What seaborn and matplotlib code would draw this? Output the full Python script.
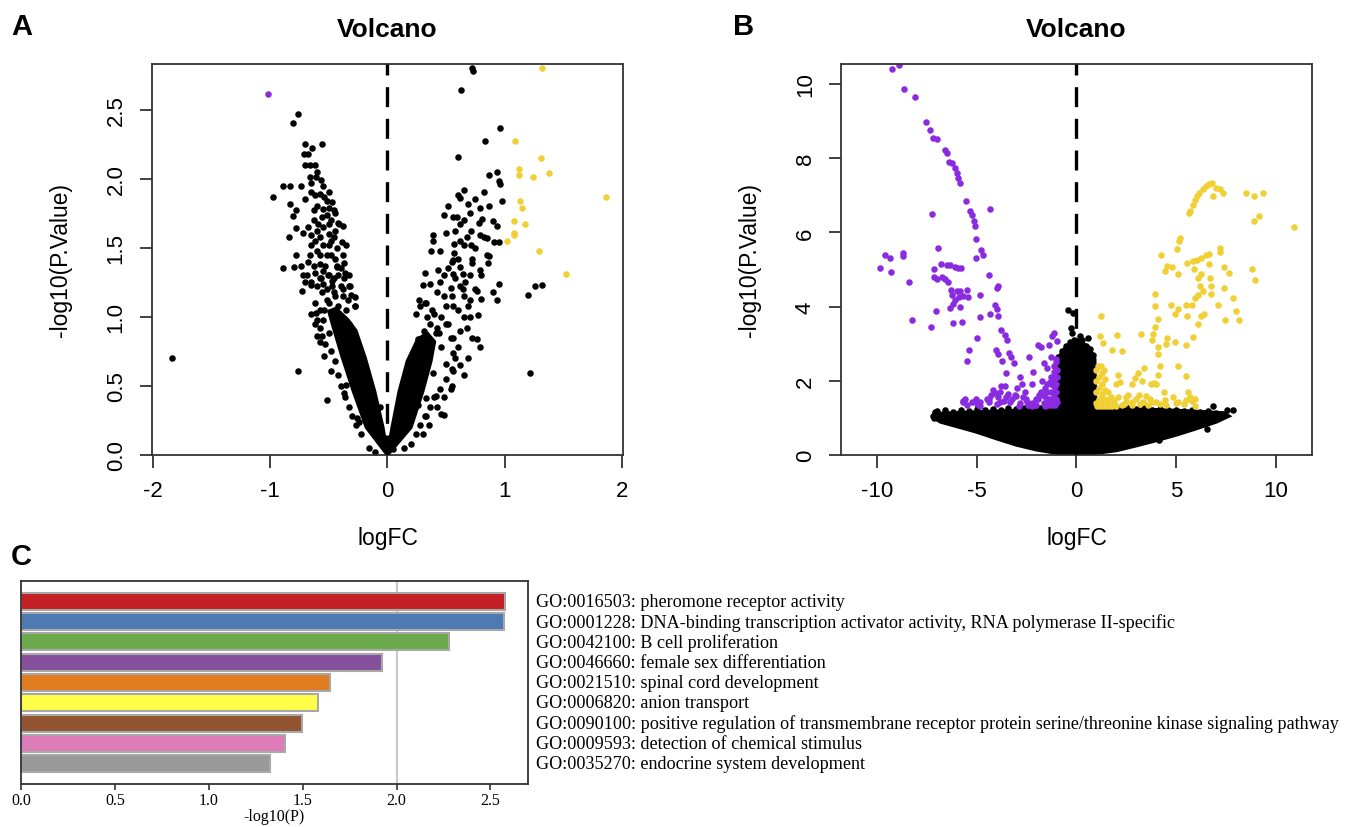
import matplotlib
matplotlib.use("Agg")
import matplotlib.pyplot as plt
import seaborn as sns
import pandas as pd

# ---------------- Panel A: volcano (small data set) ----------------
a_ns_x = [-1.84, -0.76, -0.81, -0.70, -0.56, -0.71, -0.68, -0.70, -0.66, -0.62, -0.66, -0.61, -0.57, -0.65,
          -0.98, -0.89, -0.83, -0.65, -0.58, -0.54, -0.52, -0.47, -0.83, -0.63, -0.78, -0.81, -0.50, -0.46,
          -0.56, -0.59, -0.50, -0.41, -0.38, -0.78, -0.72, -0.84, -0.65, -0.58, -0.46, -0.39, -0.65, -0.50,
          -0.35, -0.66, -0.78, -0.58, -0.48, -0.89, -0.80, -0.74, -0.63, -0.53, -0.43, -0.37, -0.69, -0.58,
          -0.46, -0.33, -0.73, -0.65, -0.56, -0.32, -0.61, -0.54, -0.28, -0.28, -0.58, -0.56, -0.60, -0.58,
          -0.54, -0.48, -0.76, -0.52, -0.37, -0.35, -0.26, -0.24, -0.11,
          0.72, 0.73, 0.63, 0.96, 0.83, 0.60, 0.93, 0.87, 0.95, 0.96, 0.65, 0.60, 0.62, 0.82, 0.98, 0.52,
          0.69, 0.87, 0.79, 0.48, 0.56, 0.59, 0.62, 0.81, 0.90, 0.93, 0.39, 0.50, 0.71, 0.79, 0.85, 0.91,
          0.95, 0.39, 0.57, 0.65, 0.71, 0.37, 0.45, 0.57, 0.87, 0.56, 0.72, 0.86, 0.32, 0.43, 0.56, 0.64,
          0.79, 0.30, 0.36, 0.95, 1.20, 1.26, 1.32, 0.54, 0.64, 0.76, 0.90, 0.65, 0.80, 0.93, 0.33, 0.48,
          0.56, 0.69, 0.60, 0.70, 0.77, 0.50, 0.62, 0.41, 0.54, 0.76, 0.79, 0.46, 0.56, 0.69, 1.22, 0.50,
          0.56, 0.39, 0.54, 0.41, 0.33, 0.46, 0.48, 0.33, 0.26]
a_ns_y = [0.70, 2.47, 2.40, 2.25, 2.25, 2.18, 2.18, 2.10, 2.10, 2.10, 2.01, 2.01, 1.99, 1.97,
          1.87, 1.95, 1.95, 1.90, 1.89, 1.87, 1.84, 1.83, 1.82, 1.77, 1.77, 1.73, 1.79, 1.77,
          1.72, 1.67, 1.67, 1.67, 1.66, 1.64, 1.61, 1.58, 1.59, 1.58, 1.58, 1.54, 1.52, 1.52,
          1.52, 1.45, 1.45, 1.45, 1.45, 1.35, 1.36, 1.37, 1.37, 1.37, 1.37, 1.39, 1.30, 1.28,
          1.28, 1.30, 1.19, 1.23, 1.18, 1.22, 1.03, 1.05, 1.14, 1.08, 0.92, 0.86, 0.86, 0.82,
          0.72, 0.61, 0.61, 0.40, 0.45, 0.51, 0.27, 0.24, 0.02,
          2.80, 2.78, 2.64, 2.37, 2.27, 2.16, 2.05, 2.03, 1.98, 1.96, 1.92, 1.88, 1.86, 1.90, 1.84, 1.80,
          1.82, 1.80, 1.79, 1.74, 1.72, 1.72, 1.67, 1.71, 1.69, 1.66, 1.59, 1.61, 1.62, 1.59, 1.57, 1.54,
          1.54, 1.55, 1.53, 1.52, 1.52, 1.48, 1.48, 1.46, 1.44, 1.41, 1.39, 1.39, 1.32, 1.34, 1.31, 1.31,
          1.34, 1.23, 1.24, 1.24, 1.16, 1.22, 1.23, 1.21, 1.20, 1.19, 1.18, 1.15, 1.13, 1.12, 1.10, 1.15,
          1.08, 1.08, 1.05, 1.00, 1.01, 0.95, 0.90, 0.88, 0.85, 0.84, 0.78, 0.78, 0.74, 0.70, 0.59, 0.66,
          0.61, 0.59, 0.48, 0.43, 0.41, 0.30, 0.29, 0.28, 0.36]
# genes crowding the two arms of the "V"
a_arm_x = [-0.62, -0.60, -0.55, -0.52, -0.48, -0.63, -0.60, -0.55, -0.50, -0.45, -0.62, -0.55, -0.48, -0.43,
           -0.60, -0.52, -0.45, -0.68, -0.62, -0.55, -0.50, -0.42, -0.65, -0.60, -0.52, -0.47, -0.40, -0.62,
           -0.58, -0.52, -0.45, -0.38, -0.35, -0.33, -0.30, -0.55, -0.50, -0.53, -0.48, -0.45, -0.42, -0.40,
           -0.36, -0.33, -0.30, -0.27, -0.23, -0.62, -0.65, -0.70, -0.72, -0.68, -0.70, -0.74, -0.60, -0.64,
           -0.55, -0.50, -0.45, -0.42, -0.38, -0.58, -0.60, -0.57, -0.40, -0.36, -0.33, -0.16, -0.10, -0.06,
           -0.50, -0.46, -0.42, -0.38, -0.34, -0.55, -0.51, -0.47, -0.43, -0.37, -0.31, -0.28,
           0.30, 0.34, 0.38, 0.42, 0.46, 0.50, 0.55, 0.52, 0.56, 0.60, 0.58, 0.55, 0.50, 0.45, 0.40, 0.36,
           0.32, 0.28, 0.24, 0.20, 0.38, 0.34, 0.32, 0.28, 0.42, 0.45, 0.48, 0.52, 0.55, 0.60, 0.62, 0.58,
           0.62, 0.66, 0.70, 0.72, 0.75, 0.68, 0.62, 0.58, 0.65, 0.70, 0.75, 0.78, 0.82, 0.85, 0.80, 0.75,
           0.70, 0.65, 0.68, 0.72, 0.62, 0.65, 0.55, 0.48, 0.42, 0.35, 0.30, 0.14, 0.09, 0.05, 0.27, 0.24,
           0.36, 0.40, 0.44, 0.31, 0.26]
a_arm_y = [1.88, 1.80, 1.78, 1.74, 1.70, 1.70, 1.62, 1.65, 1.60, 1.62, 1.55, 1.52, 1.55, 1.50,
           1.48, 1.45, 1.42, 1.40, 1.32, 1.33, 1.30, 1.30, 1.25, 1.22, 1.20, 1.22, 1.22, 1.10,
           1.05, 1.12, 1.15, 1.15, 1.05, 0.95, 0.90, 0.98, 0.88, 0.80, 0.75, 0.68, 0.58, 0.50,
           0.42, 0.35, 0.28, 0.22, 0.15, 0.95, 1.02, 1.25, 1.30, 1.65, 1.85, 1.95, 2.05, 2.22,
           1.95, 1.90, 1.75, 1.68, 1.45, 1.38, 0.98, 1.28, 1.35, 1.32, 1.22, 0.05, 0.18, 0.35,
           1.10, 1.18, 1.08, 1.20, 1.12, 1.24, 1.30, 1.26, 1.36, 1.28, 1.16, 1.08,
           0.60, 0.70, 0.82, 0.92, 1.00, 1.08, 1.15, 0.95, 0.85, 0.78, 0.70, 0.62, 0.55, 0.48, 0.42, 0.35,
           0.28, 0.22, 0.15, 0.08, 1.05, 1.00, 1.10, 1.08, 1.18, 1.25, 1.30, 1.35, 1.40, 1.42, 1.36, 1.28,
           1.22, 1.25, 1.30, 1.42, 1.50, 1.58, 1.55, 1.62, 1.70, 1.75, 1.85, 1.68, 1.58, 1.45, 1.30, 1.20,
           1.12, 1.00, 0.92, 0.85, 0.65, 0.58, 0.50, 0.42, 0.35, 0.22, 0.15, 0.05, 0.12, 0.04, 1.12, 1.02,
           0.95, 1.02, 0.88, 0.90, 0.84]
a_up_x = [1.32, 1.09, 1.31, 1.12, 1.12, 1.24, 1.38, 1.86, 1.13, 1.15, 1.08, 1.17, 1.08, 1.08, 1.02, 1.29, 1.52]
a_up_y = [2.80, 2.27, 2.15, 2.07, 2.03, 2.01, 2.04, 1.87, 1.84, 1.79, 1.69, 1.67, 1.61, 1.59, 1.55, 1.48, 1.31]
a_down_x = [-1.02]
a_down_y = [2.61]
# outline of the densely packed bottom of the "V"
a_core_left_x = [0.0, -0.18, -0.29, -0.39, -0.46, -0.50, -0.44, -0.34, -0.27, -0.19, -0.11, -0.04, 0.0]
a_core_left_y = [0.0, 0.20, 0.46, 0.72, 0.92, 1.04, 1.06, 0.98, 0.90, 0.70, 0.46, 0.20, 0.0]
a_core_right_x = [0.0, 0.20, 0.30, 0.37, 0.40, 0.34, 0.26, 0.17, 0.10, 0.04, 0.0]
a_core_right_y = [0.0, 0.20, 0.46, 0.68, 0.82, 0.88, 0.84, 0.68, 0.46, 0.20, 0.0]

# ---------------- Panel B: volcano (large data set) ----------------
b_down_x = [-9.22, -8.89, -8.64, -8.06, -7.54, -7.35, -7.18, -6.96, -6.60, -6.49, -6.38, -6.25, -6.10, -6.00,
            -5.93, -5.84, -5.52, -5.35, -5.24, -5.13, -5.07, -4.34, -7.24, -5.01, -4.77, -4.66, -5.03, -6.92,
            -9.56, -9.32, -8.68, -8.68, -9.82, -9.26, -8.38, -6.79, -6.49, -6.32, -6.10, -5.93, -5.78, -7.13,
            -7.13, -6.96, -6.75, -6.58, -6.42, -6.27, -6.21, -6.10, -6.00, -5.82, -5.89, -5.67, -5.50, -5.41,
            -4.38, -3.95, -4.00, -4.81, -6.19, -6.32, -5.82, -7.05, -8.25, -7.28, -6.19, -5.71, -4.81, -4.34,
            -4.10, -4.00, -3.91, -4.96, -3.78, -3.59, -3.48, -5.39, -5.46, -4.02, -3.91, -3.35, -3.27, -3.74,
            -3.14, -3.52, -2.38, -1.91, -1.76, -1.37, -1.20, -1.12, -0.99, -2.81, -2.19, -1.63, -1.48, -2.23,
            -1.70, -2.73, -2.99, -2.56, -2.66, -3.09, -2.45, -2.02, -1.85, -1.55, -1.33, -1.16, -1.10, -1.03,
            -1.27, -3.57, -3.85, -3.95, -3.52, -3.31, -3.85, -4.38, -4.81, -5.24, -5.67, -5.56, -5.03, -4.49,
            -4.06, -4.28, -4.81, -2.88, -2.23, -1.59, -1.37, -1.16, -1.05, -0.95, -0.95, -0.99]
b_down_y = [10.41, 10.52, 9.86, 9.65, 8.97, 8.75, 8.54, 8.51, 8.22, 8.15, 7.91, 7.88, 7.74, 7.59,
            7.48, 7.34, 6.85, 6.58, 6.46, 6.32, 6.17, 6.62, 6.49, 5.81, 5.52, 5.38, 5.30, 5.58,
            5.38, 5.31, 5.44, 5.36, 5.04, 4.93, 4.67, 5.14, 5.11, 5.11, 5.07, 5.04, 5.04, 5.01,
            4.80, 4.75, 4.80, 4.75, 4.65, 4.46, 4.32, 4.19, 4.41, 4.41, 4.26, 4.29, 4.46, 4.26,
            4.85, 4.56, 4.49, 4.32, 4.08, 3.95, 3.98, 3.87, 3.65, 3.44, 3.55, 3.59, 3.71, 3.80,
            4.03, 3.93, 3.76, 3.16, 3.37, 3.23, 3.11, 2.82, 2.53, 2.82, 2.73, 2.75, 2.65, 2.53,
            2.47, 2.22, 2.65, 2.97, 2.92, 2.97, 3.21, 3.30, 3.06, 2.10, 2.24, 2.49, 2.34, 1.91,
            2.00, 1.91, 1.81, 1.71, 1.57, 1.62, 1.43, 1.52, 1.62, 1.81, 1.96, 2.10, 2.39, 2.58,
            2.63, 1.86, 1.71, 1.57, 1.57, 1.43, 1.43, 1.43, 1.43, 1.43, 1.43, 1.52, 1.50, 1.52,
            1.67, 1.62, 1.33, 1.33, 1.33, 1.33, 1.52, 1.71, 1.86, 1.43, 2.10, 2.29]
# down-regulated genes packed just above the threshold
b_down2_x = [-1.00, -1.00, -1.00, -1.00, -1.00, -1.00, -1.12, -1.12, -1.12, -1.12, -1.12, -1.28, -1.28, -1.28,
             -1.28, -1.45, -1.45, -1.45, -1.60, -1.60, -1.75, -1.90, -2.20, -2.50, -2.80, -3.20, -3.60, -4.00,
             -4.40, -5.00, -5.50, -5.70, -4.20, -3.80, -3.40, -3.00, -1.05, -1.20, -1.35, -1.50, -2.00, -2.40]
b_down2_y = [1.50, 1.70, 1.90, 2.10, 2.30, 2.50, 1.45, 1.65, 1.85, 2.05, 2.25, 1.50, 1.70, 1.90,
             2.10, 1.50, 1.70, 1.90, 1.40, 1.60, 1.70, 1.50, 1.40, 1.50, 1.40, 1.50, 1.45, 1.38,
             1.50, 1.38, 1.35, 1.45, 1.75, 1.85, 1.65, 1.60, 1.35, 1.35, 1.35, 1.35, 1.35, 1.35]
b_up_x = [6.79, 6.62, 6.47, 6.32, 6.14, 6.04, 5.93, 5.82, 5.71, 5.63, 7.00, 7.18, 7.33, 6.85, 8.51, 8.87,
          9.37, 9.15, 8.89, 10.91, 5.20, 5.13, 5.03, 4.25, 4.53, 4.81, 5.07, 4.43, 5.56, 5.82, 6.04, 6.25,
          6.47, 6.64, 7.18, 7.18, 6.62, 5.89, 6.25, 6.10, 6.68, 7.39, 7.65, 8.79, 8.94, 6.19, 6.75, 6.10,
          5.93, 5.78, 6.36, 6.75, 7.39, 7.86, 7.08, 7.97, 8.14, 7.43, 6.25, 6.40, 6.10, 5.50, 5.56, 4.96,
          5.07, 4.75, 3.93, 3.93, 4.10, 3.95, 3.85, 3.78, 4.10, 4.10, 4.53, 4.49, 4.96, 5.50, 5.84, 3.24,
          2.02, 1.20, 1.25, 1.31, 1.80, 2.28, 3.39, 3.09, 2.96, 2.81, 3.29, 3.72, 3.89, 4.10, 4.17, 5.11,
          5.50, 5.61, 5.71, 5.50, 4.86, 4.43, 3.78, 4.21, 3.14, 3.35, 2.60, 2.49, 2.06, 1.99, 2.17, 2.06,
          2.38, 2.81, 3.67, 5.07, 5.93, 5.93]
b_up_y = [7.33, 7.30, 7.25, 7.16, 7.06, 6.97, 6.87, 6.74, 6.58, 6.53, 7.21, 7.16, 7.06, 6.98, 7.06, 6.99,
          7.06, 6.44, 6.32, 6.15, 5.86, 5.76, 5.55, 5.40, 5.09, 5.07, 4.87, 4.96, 5.18, 5.23, 5.26, 5.30,
          5.38, 5.42, 5.57, 5.47, 5.16, 5.02, 4.87, 4.77, 4.78, 5.07, 4.91, 5.01, 4.73, 4.56, 4.56, 4.32,
          4.22, 4.03, 4.41, 4.34, 4.51, 4.24, 4.03, 3.88, 3.64, 3.64, 3.74, 3.79, 3.53, 4.05, 3.76, 3.79,
          3.93, 4.03, 4.34, 4.01, 3.66, 3.45, 3.26, 3.11, 2.92, 2.73, 3.16, 2.99, 3.04, 2.97, 3.18, 3.26,
          3.24, 3.21, 3.74, 3.02, 2.82, 2.79, 2.34, 2.20, 2.07, 1.91, 2.00, 1.91, 1.93, 2.15, 2.39, 2.41,
          2.12, 1.71, 1.57, 1.47, 1.57, 1.47, 1.43, 1.38, 1.62, 1.43, 1.62, 1.43, 2.15, 1.91, 1.96, 1.57,
          1.38, 1.43, 1.52, 1.43, 1.52, 1.33]
# up-regulated genes packed just above the threshold
b_up2_x = [1.00, 1.00, 1.00, 1.00, 1.12, 1.12, 1.12, 1.28, 1.28, 1.28, 1.28, 1.42, 1.42, 1.42, 1.58, 1.58,
           1.72, 1.90, 2.30, 2.80, 3.20, 3.60, 4.00, 4.50, 5.00, 5.40, 5.80, 2.50, 3.00, 3.50, 4.40, 4.00,
           1.05, 1.20, 1.35, 1.50, 1.65, 1.80, 2.00, 1.10, 1.25, 1.40]
b_up2_y = [1.40, 1.70, 2.00, 2.30, 1.50, 1.80, 2.10, 1.45, 1.65, 1.90, 2.20, 1.50, 1.75, 2.05, 1.45, 1.70,
           1.55, 1.45, 1.35, 1.35, 1.38, 1.35, 1.42, 1.36, 1.40, 1.38, 1.45, 1.55, 1.50, 1.60, 1.70, 1.90,
           1.33, 1.33, 1.33, 1.33, 1.33, 1.33, 1.33, 2.40, 2.40, 2.30]
b_ns_x = [-7.13, -6.96, 6.85, 7.54, 7.86, 6.53, 7.11, 4.15, -0.41, -0.17, -0.26, -0.20, 0.20, 0.60,
          -0.90, -0.70, -0.50, -0.30, -0.10, 0.10, 0.30, 0.50, 0.70, 0.85,
          -7.00, -6.60, -6.20, -5.80, -5.40, -5.00, -4.60, -4.20, -3.80, -3.40, -3.00, -2.60, -2.20, -1.80,
          -1.40, 1.40, 1.80, 2.20, 2.60, 3.00, 3.40, 3.80, 4.20, 4.60, 5.00, 5.40, 5.80, 6.20, 6.60, 7.00,
          7.30, -7.20, -7.10]
b_ns_y = [0.99, 1.18, 1.33, 1.21, 1.21, 0.70, 0.99, 0.41, 3.91, 3.83, 3.43, 3.30, 3.20, 3.15,
          2.65, 2.80, 2.95, 3.05, 3.10, 3.05, 3.10, 2.95, 2.85, 2.70,
          1.12, 1.20, 1.15, 1.22, 1.18, 1.24, 1.20, 1.25, 1.22, 1.26, 1.24, 1.27, 1.25, 1.26,
          1.27, 1.27, 1.26, 1.25, 1.27, 1.24, 1.26, 1.22, 1.25, 1.20, 1.22, 1.18, 1.20, 1.16, 1.18, 1.12,
          1.10, 1.05, 1.15]
# outline of the solid mass of non-significant genes
b_core_x = [-7.1, -6.8, -6.0, -5.0, -4.0, -3.0, -2.0, -1.0, 0.0, 1.0, 2.0, 3.0, 4.0, 5.0, 6.0, 7.0, 7.6,
            7.4, 6.5, 5.5, 4.5, 3.5, 2.5, 1.5, 0.95, 0.90, 0.60, 0.30, 0.0, -0.30, -0.60, -0.90, -0.95,
            -1.5, -2.5, -3.5, -4.5, -5.5, -6.5, -7.1]
b_core_y = [1.00, 0.90, 0.78, 0.63, 0.45, 0.28, 0.15, 0.06, 0.00, 0.06, 0.13, 0.26, 0.40, 0.55, 0.72, 0.90, 1.05,
            1.12, 1.15, 1.18, 1.20, 1.22, 1.22, 1.23, 1.23, 2.60, 2.90, 3.00, 3.10, 3.00, 2.85, 2.60, 1.25,
            1.20, 1.20, 1.18, 1.16, 1.14, 1.12, 1.10]

# ---------------- Panel C: GO enrichment ----------------
go_terms = ["GO:0016503: pheromone receptor activity",
            "GO:0001228: DNA-binding transcription activator activity, RNA polymerase II-specific",
            "GO:0042100: B cell proliferation",
            "GO:0046660: female sex differentiation",
            "GO:0021510: spinal cord development",
            "GO:0006820: anion transport",
            "GO:0090100: positive regulation of transmembrane receptor protein serine/threonine kinase signaling pathway",
            "GO:0009593: detection of chemical stimulus",
            "GO:0035270: endocrine system development"]
go_logp = [2.576, 2.574, 2.277, 1.925, 1.647, 1.582, 1.495, 1.408, 1.327]
go_colors = ["#C41F25", "#4E7AB4", "#6BAB4E", "#844F9B", "#E07B20", "#FFFF4A", "#925530", "#DD7CB8", "#999999"]
c_ticks = [0.0, 0.5, 1.0, 1.5, 2.0, 2.5]

BLACK = "#000000"
PURPLE = "#8A2BE2"
YELLOW = "#F0D035"
PT = 22

sns.set_style("ticks")
plt.rcParams["font.family"] = ["Liberation Sans", "DejaVu Sans"]
plt.rcParams.update({"text.color": "black", "axes.labelcolor": "black",
                     "xtick.color": "black", "ytick.color": "black"})

fig = plt.figure(figsize=(13.53, 8.28), dpi=100)
axA = fig.add_axes([0.1121, 0.4493, 0.3486, 0.4722])
axB = fig.add_axes([0.6214, 0.4493, 0.3486, 0.4722])
axC = fig.add_axes([0.0155, 0.0519, 0.3747, 0.2452])


def volcano_axes(ax, xlim, ylim, xticks, yticks, ytick_labels):
    ax.set_xlim(*xlim)
    ax.set_ylim(*ylim)
    ax.set_xticks(xticks)
    ax.set_xticklabels([f"{t:g}" for t in xticks])
    ax.set_yticks(yticks)
    ax.set_yticklabels(ytick_labels, rotation=90, va="center")
    for s in ax.spines.values():
        s.set_linewidth(1.3)
        s.set_color("#333333")
    ax.tick_params(direction="out", length=9, width=1.3, color="#333333", labelsize=16, pad=9)
    ax.set_xlabel("logFC", fontsize=16.5, labelpad=18)
    ax.set_ylabel("-log10(P.Value)", fontsize=16.5, labelpad=24)
    ax.set_title("Volcano", fontsize=19, fontweight="bold", pad=20)


def scatter(ax, xs, ys, color):
    sns.scatterplot(x=xs, y=ys, color=color, s=PT, linewidth=0, ax=ax, zorder=2, legend=False)


# Panel A
axA.fill(a_core_left_x, a_core_left_y, color=BLACK, lw=2.5, zorder=2)
axA.fill(a_core_right_x, a_core_right_y, color=BLACK, lw=2.5, zorder=2)
scatter(axA, a_ns_x, a_ns_y, BLACK)
scatter(axA, a_arm_x, a_arm_y, BLACK)
scatter(axA, a_up_x, a_up_y, YELLOW)
scatter(axA, a_down_x, a_down_y, PURPLE)
axA.axvline(0, color=BLACK, lw=2.4, ls=(0, (6, 3.5)), zorder=3)
volcano_axes(axA, (-2.012, 2.012), (0, 2.83), [-2, -1, 0, 1, 2],
             [0, 0.5, 1.0, 1.5, 2.0, 2.5], ["0.0", "0.5", "1.0", "1.5", "2.0", "2.5"])

# Panel B
axB.fill(b_core_x, b_core_y, color=BLACK, lw=3, zorder=2)
scatter(axB, b_ns_x, b_ns_y, BLACK)
scatter(axB, b_down_x, b_down_y, PURPLE)
scatter(axB, b_down2_x, b_down2_y, PURPLE)
scatter(axB, b_up_x, b_up_y, YELLOW)
scatter(axB, b_up2_x, b_up2_y, YELLOW)
axB.axvline(0, color=BLACK, lw=2.4, ls=(0, (6, 3.5)), zorder=3)
volcano_axes(axB, (-11.8, 11.82), (0, 10.54), [-10, -5, 0, 5, 10],
             [0, 2, 4, 6, 8, 10], ["0", "2", "4", "6", "8", "10"])

# Panel C
df = pd.DataFrame({"term": go_terms, "logp": go_logp})
axC.axvline(2.0, color="#C8C8C8", lw=1.5, zorder=0)
sns.barplot(data=df, x="logp", y="term", hue="term", palette=go_colors, orient="h", saturation=1,
            width=0.84, edgecolor="#A8A8A8", linewidth=1.5, legend=False, ax=axC, zorder=2)
axC.set_xlim(0, 2.70)
axC.set_ylim(9.0, -1.0)
axC.set_yticks([])
axC.set_ylabel("")
axC.set_xticks(c_ticks)
axC.set_xticklabels([f"{t:.1f}" for t in c_ticks], family="Liberation Serif", fontsize=11.5)
axC.set_xlabel("-log10(P)", family="Liberation Serif", fontsize=11.5, labelpad=0)
axC.tick_params(axis="x", direction="out", length=4, width=1.2, color="#333333", pad=2)
for s in axC.spines.values():
    s.set_linewidth(1.3)
    s.set_color("#333333")
for i, term in enumerate(go_terms):
    axC.text(1.0 + 8 / 507, i, term, transform=axC.get_yaxis_transform(), va="center", ha="left",
             family="Liberation Serif", fontsize=13.1, clip_on=False)

# panel letters
fig.text(0.008, 0.967, "A", fontsize=21, fontweight="bold", va="center")
fig.text(0.542, 0.967, "B", fontsize=21, fontweight="bold", va="center")
fig.text(0.008, 0.327, "C", fontsize=21, fontweight="bold", va="center")

fig.savefig("out.png", dpi=100)
